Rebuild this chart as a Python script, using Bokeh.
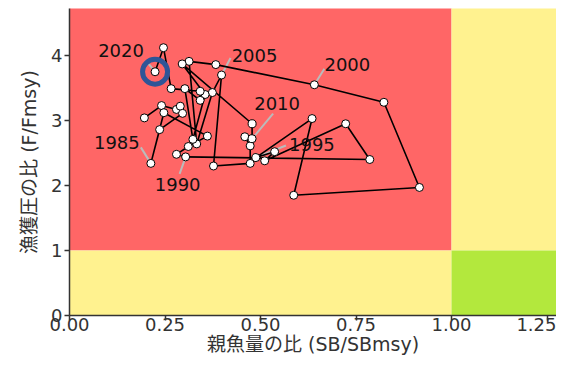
from bokeh.plotting import figure
from bokeh.models import Range1d, ColumnDataSource, FixedTicker, NumeralTickFormatter
from bokeh.core.properties import value
from bokeh.embed import file_html
from bokeh.resources import INLINE

years = list(range(1979, 2021))
sb_ratio = [0.196, 0.241, 0.280, 0.290, 0.296, 0.236,
            0.213, 0.247, 0.361, 0.311, 0.280,
            0.304, 0.786, 0.723, 0.511, 0.537,
            0.488, 0.635, 0.587, 0.916, 0.823,
            0.641, 0.383, 0.313, 0.333, 0.374,
            0.398, 0.377, 0.473, 0.473, 0.459,
            0.478, 0.478, 0.295, 0.355, 0.323,
            0.302, 0.342, 0.342, 0.266, 0.246,
            0.224]
f_ratio = [3.04, 3.23, 3.17, 3.22, 3.11, 2.86,
           2.34, 3.12, 2.76, 2.60, 2.48,
           2.44, 2.40, 2.95, 2.38, 2.52,
           2.43, 3.03, 1.85, 1.97, 3.28,
           3.55, 3.86, 3.91, 2.64, 3.43,
           3.70, 2.30, 2.34, 2.61, 2.75,
           2.72, 2.95, 3.87, 3.40, 2.71,
           3.49, 3.31, 3.45, 3.49, 4.12,
           3.75]
label_years = [1985, 1990, 1995, 2000, 2005, 2010, 2020]
x_ticks = [0.0, 0.25, 0.5, 0.75, 1.0, 1.25]
y_ticks = [0, 1, 2, 3, 4]

W, H = 556, 360
BL, BT, BB = 69, 8, 45
FW, FH = W - BL, H - BT - BB
X_END, Y_END = FW / 382.0, FH / 65.0
FONT = "DejaVu Sans, Noto Sans CJK JP"

p = figure(width=W, height=H, output_backend="svg", toolbar_location=None,
           x_range=Range1d(0, X_END), y_range=Range1d(0, Y_END),
           min_border_left=BL, min_border_right=0, min_border_top=BT, min_border_bottom=BB)
p.outline_line_color = None
p.grid.visible = False
p.background_fill_color = "white"

# Kobe quadrants
p.quad(left=[0], right=[1], bottom=[1], top=[10], fill_color="#ff6666", line_color=None)
p.quad(left=[0], right=[1], bottom=[0], top=[1], fill_color="#fff28f", line_color=None)
p.quad(left=[1], right=[10], bottom=[1], top=[10], fill_color="#fff28f", line_color=None)
p.quad(left=[1], right=[10], bottom=[0], top=[1], fill_color="#b3e83d", line_color=None)

# leader lines & labels
sx = X_END / FW
sy = Y_END / FH
offs = {1985: ((-10, -16), (-34, -21)), 1990: ((-6, 17), (-8, 28)),
        1995: ((30, -12), (56, -13)), 2000: ((10, -16), (33, -20)),
        2005: ((9, -17), (33, -20)), 2010: ((21, -25), (25, -35)),
        2020: ((-9, -11), (-34, -21))}
x0s, y0s, x1s, y1s, tx, ty, txt = [], [], [], [], [], [], []
for yr in label_years:
    i = years.index(yr)
    (lx, ly), (ox, oy) = offs[yr]
    x0s.append(sb_ratio[i]); y0s.append(f_ratio[i])
    x1s.append(sb_ratio[i] + lx * sx); y1s.append(f_ratio[i] - ly * sy)
    tx.append(sb_ratio[i] + ox * sx); ty.append(f_ratio[i] - oy * sy)
    txt.append(str(yr))
p.segment(x0=x0s, y0=y0s, x1=x1s, y1=y1s, line_color="#bbbbbb", line_width=2)

src = ColumnDataSource(dict(x=sb_ratio, y=f_ratio))
p.line("x", "y", source=src, line_color="black", line_width=1.6)
p.scatter("x", "y", source=src, size=8, fill_color="white", line_color="black", line_width=1)

# final year highlight
p.scatter(x=[sb_ratio[-1]], y=[f_ratio[-1]], size=25, fill_color=None,
          line_color="#2f5597", line_width=5)

p.text(x=tx, y=ty, text=txt, text_align="center", text_baseline="middle",
       text_font=value(FONT), text_font_size="18px", text_color="#111111")

for ax in (p.xaxis[0], p.yaxis[0]):
    ax.axis_line_color = "#333333"
    ax.axis_line_width = 1.5
    ax.major_tick_line_color = "#333333"
    ax.major_tick_line_width = 1.5
    ax.major_tick_out = 5
    ax.major_tick_in = 0
    ax.minor_tick_line_color = None
    ax.major_label_text_font = FONT
    ax.major_label_text_font_size = "18px"
    ax.major_label_text_color = "#333333"
    ax.axis_label_text_font = FONT
    ax.axis_label_text_font_size = "19px"
    ax.axis_label_text_font_style = "normal"
    ax.axis_label_text_color = "#333333"

p.xaxis.ticker = FixedTicker(ticks=x_ticks)
p.xaxis.formatter = NumeralTickFormatter(format="0.00")
p.yaxis.ticker = FixedTicker(ticks=y_ticks)
p.xaxis.axis_label = "親魚量の比 (SB/SBmsy)"
p.yaxis.axis_label = "漁獲圧の比 (F/Fmsy)"
p.xaxis.major_label_standoff = -3
p.yaxis.major_label_standoff = 2
p.xaxis.axis_label_standoff = -1
p.yaxis.axis_label_standoff = 8

open("out.html", "w").write(file_html(p, INLINE))
